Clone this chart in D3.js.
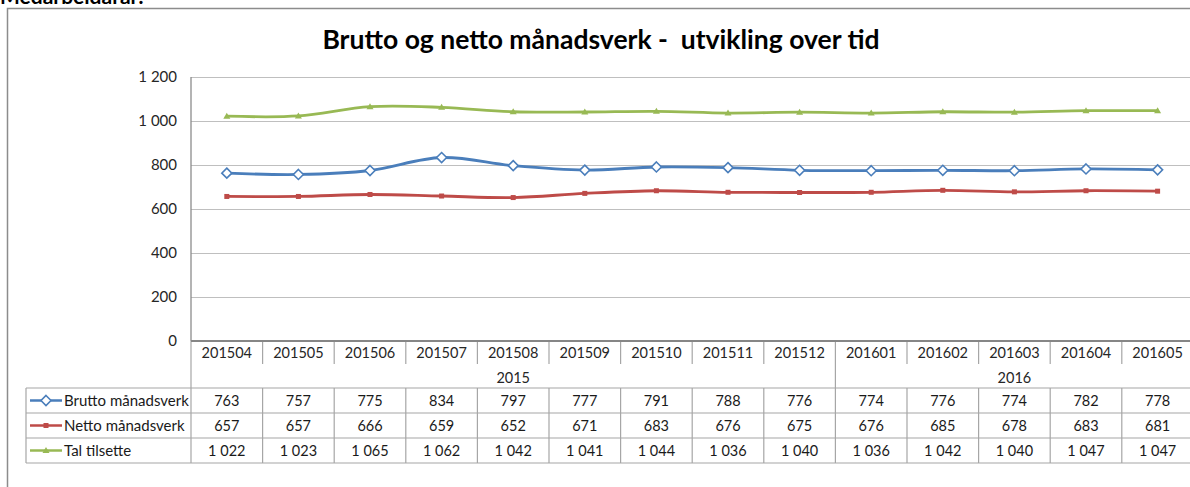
<!DOCTYPE html>
<html>
<head>
<meta charset="utf-8">
<script src="https://cdn.jsdelivr.net/npm/d3@7"></script>
<style>
  html, body { margin: 0; padding: 0; background: #fff; }
  svg { display: block; }
  text { font-family: Lato, "Open Sans", sans-serif; }
</style>
</head>
<body>
<svg id="chart" width="1190" height="487"></svg>
<script>
const months = ["201504","201505","201506","201507","201508","201509","201510","201511","201512","201601","201602","201603","201604","201605"];
const years = [{label: "2015", from: "201504", to: "201512"}, {label: "2016", from: "201601", to: "201605"}];
const seriesNames = ["Brutto månadsverk", "Netto månadsverk", "Tal tilsette"];
const brutto = [763,757,775,834,797,777,791,788,776,774,776,774,782,778];
const netto  = [657,657,666,659,652,671,683,676,675,676,685,678,683,681];
const tal    = [1022,1023,1065,1062,1042,1041,1044,1036,1040,1036,1042,1040,1047,1047];
const yTicks = [0,200,400,600,800,1000,1200];
const title = "Brutto og netto månadsverk -  utvikling over tid";
const heading = "Medarbeidarar:";

const svg = d3.select("#chart");
const W = 1190, H = 487;

const loc = d3.formatLocale({decimal: ",", thousands: "\u00a0", grouping: [3], currency: ["", ""]});
const fmt = loc.format(",d");
const yLoc = d3.formatLocale({decimal: ",", thousands: " ", grouping: [3], currency: ["", ""]});
const yFmt = yLoc.format(",d");

const plotLeft = 191, plotRight = 1193.4, plotTop = 77, plotBottom = 341;
const x = d3.scaleBand().domain(months).range([plotLeft, plotRight]).padding(0);
const y = d3.scaleLinear().domain([0, 1200]).range([plotBottom, plotTop]);

// cut-off heading at top
svg.append("text").attr("x", 0).attr("y", 4).attr("font-size", 21).attr("font-weight", 700)
  .attr("fill", "#000").text(heading);

// frame
svg.append("rect").attr("x", 7.5).attr("y", 8.5).attr("width", W + 20).attr("height", H + 20)
  .attr("fill", "#fff").attr("stroke", "#8c8c8c").attr("stroke-width", 1.5);

// title
svg.append("text").attr("x", 601).attr("y", 49).attr("text-anchor", "middle")
  .attr("font-size", 26.5).attr("font-weight", 700).attr("fill", "#000")
  .attr("xml:space", "preserve").style("white-space", "pre").text(title);

// gridlines
const grid = svg.append("g").attr("transform", `translate(${plotLeft},0)`)
  .call(d3.axisLeft(y).tickValues(yTicks.filter(d => d > 0)).tickSize(-(plotRight - plotLeft)).tickFormat(""));
grid.select(".domain").remove();
grid.selectAll("line").attr("stroke", "#bfbfbf").attr("stroke-width", 1.2);

// y axis labels
const yAx = svg.append("g").attr("transform", `translate(${plotLeft - 14},0)`)
  .call(d3.axisLeft(y).tickValues(yTicks).tickSize(0).tickPadding(0).tickFormat(yFmt));
yAx.select(".domain").remove();
yAx.selectAll("text").attr("font-size", 15).attr("fill", "#262626").attr("font-family", "Lato, sans-serif")
  .attr("dy", "0.32em").style("white-space", "pre");

// y axis line
svg.append("line").attr("x1", plotLeft).attr("x2", plotLeft).attr("y1", plotTop).attr("y2", plotBottom)
  .attr("stroke", "#8c8c8c").attr("stroke-width", 1.3);

// table geometry
const tblLeft = 26, rowTop = 388, rowH = 25;
const lineCol = "#a6a6a6";

// category tick separators
months.forEach((m, i) => {
  if (i === 0) return;
  const xx = x(m);
  const isYearBoundary = years.some(g => g.from === m);
  svg.append("line").attr("x1", xx).attr("x2", xx).attr("y1", plotBottom)
    .attr("y2", isYearBoundary ? rowTop : 364).attr("stroke", lineCol).attr("stroke-width", 1.2);
});
svg.append("line").attr("x1", plotLeft).attr("x2", plotLeft).attr("y1", plotBottom).attr("y2", rowTop + 3 * rowH)
  .attr("stroke", lineCol).attr("stroke-width", 1.2);

// category labels
svg.append("g").selectAll("text").data(months).join("text")
  .attr("x", d => x(d) + x.bandwidth() / 2).attr("y", 357.5).attr("text-anchor", "middle")
  .attr("font-size", 14.5).attr("fill", "#262626").text(d => d);

// year labels
svg.append("g").selectAll("text").data(years).join("text")
  .attr("x", d => (x(d.from) + x(d.to) + x.bandwidth()) / 2).attr("y", 383).attr("text-anchor", "middle")
  .attr("font-size", 14.5).attr("fill", "#262626").text(d => d.label);

// data table
const colors = ["#4a7ebb", "#be4b48", "#98b954"];
const allSeries = [brutto, netto, tal];

for (let r = 0; r <= 3; r++) {
  svg.append("line").attr("x1", tblLeft).attr("x2", plotRight).attr("y1", rowTop + r * rowH).attr("y2", rowTop + r * rowH)
    .attr("stroke", lineCol).attr("stroke-width", 1.2);
}
svg.append("line").attr("x1", tblLeft).attr("x2", tblLeft).attr("y1", rowTop).attr("y2", rowTop + 3 * rowH)
  .attr("stroke", lineCol).attr("stroke-width", 1.2);
months.forEach((m, i) => {
  if (i === 0) return;
  svg.append("line").attr("x1", x(m)).attr("x2", x(m)).attr("y1", rowTop).attr("y2", rowTop + 3 * rowH)
    .attr("stroke", lineCol).attr("stroke-width", 1.2);
});

// axis line at zero
svg.append("line").attr("x1", plotLeft).attr("x2", plotRight).attr("y1", plotBottom).attr("y2", plotBottom)
  .attr("stroke", "#868686").attr("stroke-width", 2);

function drawMarker(g, k, cx, cy, col) {
  if (k === 0) {
    g.append("path").attr("d", `M${cx},${cy - 5}L${cx + 5},${cy}L${cx},${cy + 5}L${cx - 5},${cy}Z`)
      .attr("fill", "#fff").attr("stroke", col).attr("stroke-width", 1.6);
  } else if (k === 1) {
    g.append("rect").attr("x", cx - 2.5).attr("y", cy - 2.5).attr("width", 5).attr("height", 5).attr("fill", col);
  } else {
    g.append("path").attr("d", `M${cx},${cy - 3.5}L${cx + 3.5},${cy + 2.5}L${cx - 3.5},${cy + 2.5}Z`).attr("fill", col);
  }
}

allSeries.forEach((vals, k) => {
  const rowY = rowTop + k * rowH;
  // legend key
  const lg = svg.append("g");
  lg.append("line").attr("x1", 30).attr("x2", 62).attr("y1", rowY + rowH / 2).attr("y2", rowY + rowH / 2)
    .attr("stroke", colors[k]).attr("stroke-width", 2.5);
  drawMarker(lg, k, 46, rowY + rowH / 2, colors[k]);
  lg.append("text").attr("x", 64).attr("y", rowY + rowH / 2 + 5).attr("font-size", 15).attr("fill", "#1a1a1a")
    .text(seriesNames[k]);
  // values
  svg.append("g").selectAll("text").data(vals).join("text")
    .attr("x", (d, i) => x(months[i]) + x.bandwidth() / 2).attr("y", rowY + rowH / 2 + 5)
    .attr("text-anchor", "middle").attr("font-size", 14.5).attr("fill", "#1a1a1a").text(d => fmt(d));
});

// lines
const line = d3.line().x((d, i) => x(months[i]) + x.bandwidth() / 2).y(d => y(d)).curve(d3.curveCatmullRom.alpha(0.5));
[tal, brutto, netto].forEach(vals => {
  const k = allSeries.indexOf(vals);
  svg.append("path").datum(vals).attr("d", line).attr("fill", "none")
    .attr("stroke", colors[k]).attr("stroke-width", 2.8).attr("stroke-linejoin", "round");
  const mg = svg.append("g");
  vals.forEach((v, i) => drawMarker(mg, k, x(months[i]) + x.bandwidth() / 2, y(v), colors[k]));
});
</script>
</body>
</html>
